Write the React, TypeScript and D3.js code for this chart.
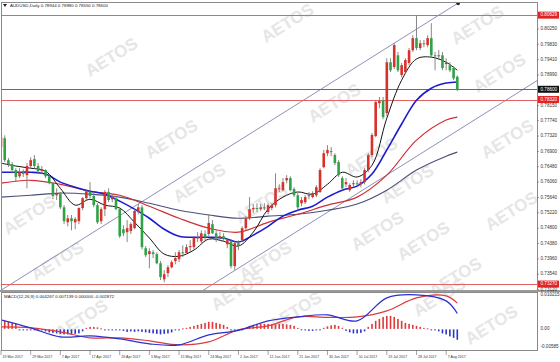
import React from "react";
import * as d3 from "d3";

// ---------- DATA ----------
const opens = [
  0.7702, 0.7726, 0.7666, 0.7655, 0.7639, 0.7622, 0.7633, 0.7625, 0.765, 0.7669,
  0.765, 0.7636, 0.7639, 0.7622, 0.7603, 0.757, 0.7573, 0.7537, 0.7496, 0.7507,
  0.7496, 0.7499, 0.7535, 0.7562, 0.7579, 0.7568, 0.7543, 0.7499, 0.7532, 0.7579,
  0.7559, 0.7562, 0.7532, 0.7477, 0.7469, 0.7472, 0.748, 0.7524, 0.7537, 0.7425,
  0.7409, 0.7414, 0.7409, 0.7384, 0.734, 0.7357, 0.7373, 0.739, 0.7395, 0.7414,
  0.7412, 0.7428, 0.7428, 0.7453, 0.7444, 0.7464, 0.7464, 0.7491, 0.7466, 0.7453,
  0.7458, 0.7436, 0.7444, 0.7376, 0.7439, 0.7447, 0.748, 0.7507, 0.7532, 0.7535,
  0.7532, 0.7537, 0.7524, 0.7535, 0.7543, 0.7587, 0.7584, 0.7611, 0.7617, 0.7587,
  0.757, 0.7548, 0.7551, 0.7568, 0.7565, 0.757, 0.7579, 0.7647, 0.7685, 0.7691,
  0.768, 0.7661, 0.7617, 0.76, 0.7584, 0.76, 0.7603, 0.76, 0.7606, 0.7639,
  0.768, 0.7732, 0.7822, 0.783, 0.7795, 0.7934, 0.7921, 0.7953, 0.7899, 0.7907,
  0.7932, 0.7967, 0.8, 0.7973, 0.7986, 0.7981, 0.8, 0.7953, 0.7951, 0.7953,
  0.7929, 0.7926, 0.7918, 0.78944,
];
const highs = [
  0.7743, 0.7734, 0.7672, 0.7661, 0.7644, 0.7644, 0.7641, 0.7658, 0.7674, 0.768,
  0.7658, 0.765, 0.7641, 0.7628, 0.7606, 0.7589, 0.7579, 0.7543, 0.7516, 0.7516,
  0.751, 0.7537, 0.7565, 0.7587, 0.7606, 0.7579, 0.7548, 0.7537, 0.7584, 0.7589,
  0.7573, 0.7568, 0.7537, 0.7488, 0.7502, 0.7496, 0.7532, 0.7546, 0.7543, 0.7431,
  0.7425, 0.742, 0.7414, 0.739, 0.7365, 0.7379, 0.7392, 0.7414, 0.742, 0.7433,
  0.7436, 0.7447, 0.7458, 0.7469, 0.7474, 0.7474, 0.7518, 0.7502, 0.7474, 0.7469,
  0.7466, 0.7453, 0.745, 0.7444, 0.7447, 0.7485, 0.7513, 0.7565, 0.7546, 0.7548,
  0.7546, 0.7548, 0.7548, 0.7548, 0.763, 0.76, 0.7617, 0.7625, 0.7622, 0.7592,
  0.7576, 0.7565, 0.757, 0.7579, 0.7581, 0.7598, 0.7644, 0.7694, 0.7707, 0.7702,
  0.7685, 0.7666, 0.7622, 0.7617, 0.7603, 0.7611, 0.7611, 0.7614, 0.7644, 0.7685,
  0.774, 0.783, 0.7839, 0.7839, 0.7945, 0.7945, 0.7986, 0.7962, 0.7932, 0.7945,
  0.7973, 0.8008, 0.8063, 0.7995, 0.7995, 0.8008, 0.8041, 0.7962, 0.7967, 0.7962,
  0.7945, 0.7934, 0.7923, 0.7898,
];
const lows = [
  0.7696, 0.7661, 0.7647, 0.763, 0.7606, 0.7617, 0.762, 0.7589, 0.7644, 0.7644,
  0.7628, 0.7628, 0.7617, 0.76, 0.7559, 0.7557, 0.7532, 0.7491, 0.7485, 0.7474,
  0.7477, 0.7491, 0.7529, 0.7557, 0.7562, 0.7537, 0.7491, 0.7491, 0.7513, 0.7551,
  0.7551, 0.7529, 0.7453, 0.7458, 0.7442, 0.7464, 0.7477, 0.7518, 0.7422, 0.7401,
  0.737, 0.7398, 0.7381, 0.7338, 0.7332, 0.7346, 0.737, 0.7381, 0.7387, 0.7401,
  0.7409, 0.7414, 0.7422, 0.7442, 0.7439, 0.7447, 0.7458, 0.7464, 0.7442, 0.7444,
  0.7442, 0.7425, 0.737, 0.7365, 0.742, 0.7442, 0.7474, 0.7502, 0.7521, 0.7524,
  0.7527, 0.7529, 0.7518, 0.7529, 0.7537, 0.7579, 0.7581, 0.7603, 0.7581, 0.7565,
  0.7532, 0.754, 0.7546, 0.7559, 0.7562, 0.7565, 0.7576, 0.7644, 0.7677, 0.7677,
  0.7652, 0.762, 0.7584, 0.7592, 0.7579, 0.7592, 0.7595, 0.7592, 0.76, 0.7633,
  0.7674, 0.7729, 0.7808, 0.7778, 0.7787, 0.7907, 0.7915, 0.7907, 0.7893, 0.7902,
  0.7926, 0.7962, 0.7967, 0.7967, 0.7975, 0.7975, 0.7948, 0.7912, 0.794, 0.7912,
  0.7912, 0.7907, 0.7885, 0.7855,
];
const closes = [
  0.7729, 0.7666, 0.7655, 0.7639, 0.762, 0.7633, 0.7628, 0.765, 0.7666, 0.765,
  0.7636, 0.7641, 0.7622, 0.7603, 0.7568, 0.7576, 0.7537, 0.7499, 0.7507, 0.7499,
  0.7505, 0.7535, 0.7562, 0.7581, 0.7568, 0.7543, 0.7496, 0.7532, 0.7579, 0.7557,
  0.7565, 0.7532, 0.7458, 0.7466, 0.748, 0.7491, 0.7527, 0.7537, 0.7428, 0.7406,
  0.7417, 0.7409, 0.7384, 0.7346, 0.7354, 0.7373, 0.7387, 0.7398, 0.7414, 0.7412,
  0.7428, 0.7431, 0.7453, 0.7455, 0.7466, 0.7455, 0.7494, 0.7466, 0.7453, 0.7458,
  0.745, 0.7447, 0.7376, 0.7439, 0.7431, 0.748, 0.7507, 0.7532, 0.7535, 0.7532,
  0.7537, 0.7535, 0.7543, 0.7543, 0.7589, 0.7589, 0.7606, 0.7617, 0.7584, 0.757,
  0.7537, 0.7557, 0.7565, 0.757, 0.7576, 0.7592, 0.7639, 0.7685, 0.7694, 0.7688,
  0.7658, 0.7625, 0.7589, 0.7606, 0.7598, 0.7603, 0.76, 0.7606, 0.7639, 0.768,
  0.7735, 0.7825, 0.7828, 0.7784, 0.7934, 0.7912, 0.7981, 0.7912, 0.7926, 0.794,
  0.7967, 0.8, 0.7973, 0.7986, 0.7984, 0.8, 0.7953, 0.7951, 0.7953, 0.7918,
  0.7932, 0.7912, 0.789, 0.786,
];

// moving averages read at sampled bars
const maIdx4 = [0, 4, 8, 12, 16, 20, 24, 28, 32, 36, 40, 44, 48, 52, 56, 60, 64, 68, 72, 76, 80, 84, 88, 92, 96, 100, 104, 108, 112, 116, 120, 123];
const maFast = [0.7658, 0.765, 0.7644, 0.7636, 0.7589, 0.7543, 0.7559, 0.7543, 0.7535, 0.7496, 0.7453, 0.7409, 0.7403, 0.742, 0.745, 0.7444, 0.7431, 0.7469, 0.7532, 0.7565, 0.7579, 0.7573, 0.76, 0.7633, 0.762, 0.7652, 0.7781, 0.7885, 0.7943, 0.7948, 0.7934, 0.7912];
const maMid = [0.7633, 0.7633, 0.7633, 0.7628, 0.7606, 0.7592, 0.7581, 0.7573, 0.7554, 0.7532, 0.7507, 0.7477, 0.7458, 0.7455, 0.7455, 0.7453, 0.7442, 0.7461, 0.7485, 0.7513, 0.7529, 0.754, 0.7565, 0.7584, 0.7595, 0.7628, 0.7694, 0.7765, 0.783, 0.7863, 0.7877, 0.788];
const maIdx8 = [0, 8, 16, 24, 32, 40, 48, 56, 64, 72, 80, 88, 96, 104, 112, 120, 123];
const maSlow = [0.7603, 0.7611, 0.76, 0.7581, 0.757, 0.754, 0.7507, 0.748, 0.7469, 0.7496, 0.7518, 0.7543, 0.7565, 0.7625, 0.7721, 0.7776, 0.7784];
const maLong = [0.7565, 0.757, 0.7576, 0.7573, 0.7565, 0.7548, 0.7529, 0.7516, 0.7507, 0.7513, 0.7518, 0.7529, 0.7546, 0.7584, 0.7639, 0.7677, 0.7688];

// MACD (12,26,9)
const macdMain = [0.00249, 0.00028, -0.00222, -0.00194, -0.00277, -0.00415, -0.00443, -0.00166, -0.00042, 0.00222, 0.00332, 0.00388, 0.00222, 0.00859, 0.00942, 0.00776, 0.004267];
const macdSignal = [0.00055, 0.00028, -0.00083, -0.00249, -0.00249, -0.00332, -0.00443, -0.0036, -0.00028, 0.00083, 0.00332, 0.00319, 0.00332, 0.00499, 0.00859, 0.00914, 0.007139];
const macdHist = [
  0.00222, 0.00222, 0.00194, 0.00166, 0.00139, -0.00014, -0.00014, -0.00019, -0.00014, -0.00017,
  -0.00022, -0.00028, -0.00055, -0.00083, -0.00097, -0.00111, -0.00125, -0.00139, -0.00139, -0.00139,
  -0.00125, -0.00111, -0.00055, 0.00028, 0.00055, 0.00055, 0.00042, 0.00014, -0.00014, -0.00014,
  -0.00014, -0.00017, -0.00014, -0.00042, -0.00069, -0.00055, -0.00069, -0.00055, -0.00069, -0.00083,
  -0.00097, -0.00111, -0.00125, -0.00139, -0.00125, -0.00111, -0.00083, -0.00028, -0.00014, 0.00014,
  0.00028, 0.00055, 0.00083, 0.00111, 0.00139, 0.00166, 0.00194, 0.00194, 0.00166, 0.00139,
  0.00111, 0.00055, -0.00014, -0.00028, -0.00028, -0.00014, 0.00028, 0.00083, 0.00111, 0.00139,
  0.00139, 0.00139, 0.00139, 0.00125, 0.00125, 0.00139, 0.00139, 0.00125, 0.00111, 0.00083,
  0.00028, -0.00014, -0.00028, -0.00042, -0.00042, -0.00028, -0.00014, 0.00028, 0.00069, 0.00097,
  0.00111, 0.00083, 0.00028, -0.00042, -0.00083, -0.00111, -0.00111, -0.00097, -0.00055, 0.00055,
  0.00139, 0.00222, 0.00277, 0.00332, 0.0036, 0.0036, 0.00332, 0.00277, 0.00222, 0.00166,
  0.00139, 0.00111, 0.00083, 0.00055, 0.00028, 0.00014, -0.00014, -0.00028, -0.00055, -0.00111,
  -0.00139, -0.00194, -0.00235, -0.002872,
];

const dateLabels = ["19 Mar 2017", "29 Mar 2017", "7 Apr 2017", "17 Apr 2017", "26 Apr 2017", "5 May 2017", "15 May 2017", "24 May 2017", "2 Jun 2017", "12 Jun 2017", "21 Jun 2017", "30 Jun 2017", "10 Jul 2017", "19 Jul 2017", "28 Jul 2017", "7 Aug 2017"];
const dateBars = [0, 8, 16, 24, 32, 40, 48, 56, 64, 72, 80, 88, 96, 104, 112, 120];
const priceTicks = ["0.80250", "0.79830", "0.79410", "0.78990", "0.78150", "0.77740", "0.77320", "0.76900", "0.76480", "0.76060", "0.75640", "0.75220", "0.74800", "0.74380", "0.73960", "0.73540", "0.73120"];
const redLevels = ["0.80629", "0.78320", "0.73270"];
const lastPrice = "0.78600";
const channelA = [[0, 0.731], [100, 0.7948]];
const channelB = [[100, 0.76], [140, 0.7855]];
const macdTicks = ["0.010215", "0.00", "-0.00585"];
const title = "AUDUSD,Daily 0.78944 0.78980 0.78550 0.78600";
const macdTitle = "MACD(12,26,9) 0.004267 0.007139 0.000000 -0.002872";

// watermark placement (decoration)
const marks = [[112, 58], [288, 24], [478, 26], [500, 74], [335, 104], [372, 158], [172, 140], [200, 184], [30, 216], [58, 262], [262, 205], [266, 262], [378, 232], [408, 185], [424, 242], [456, 278], [238, 292], [82, 320], [440, 298], [492, 326], [296, 312], [508, 140], [512, 212]];

const FONT = "'Liberation Sans', Arial, sans-serif";

export default function App() {
  const W = 560, H = 362;
  const L = 1, R = 537, mainTop = 2, mainBottom = 290, macdTop = 292, macdBottom = 350;
  const x = d3.scaleLinear().domain([0, 123]).range([1, 457.3]);
  const y = d3.scaleLinear().domain([0.8025, 0.7438]).range([29, 243.5]);
  const ym = d3.scaleLinear().domain([0.010215, -0.00585]).range([macdTop, macdBottom]);

  const curve = d3.curveCatmullRom.alpha(0.5);
  const maPath = (idx: number[], vals: number[]) =>
    d3.line<number>().x((_, k) => x(idx[k])).y((v) => y(v)).curve(curve)(vals) || "";
  const macdPath = (vals: number[]) =>
    d3.line<number>().x((_, k) => x(maIdx8[k])).y((v) => ym(v)).curve(curve)(vals) || "";

  const chan = (c: number[][]) => {
    const s = (c[1][1] - c[0][1]) / (c[1][0] - c[0][0]);
    const i0 = -20, i1 = 200;
    return { x1: x(i0), y1: y(c[0][1] + s * (i0 - c[0][0])), x2: x(i1), y2: y(c[0][1] + s * (i1 - c[0][0])) };
  };
  const cA = chan(channelA);
  const cB = chan(channelB);
  const sA = (channelA[1][1] - channelA[0][1]) / (channelA[1][0] - channelA[0][0]);
  const topPrice = y.invert(mainTop + 1);
  const iTop = channelA[0][0] + (topPrice - channelA[0][1]) / sA;

  const bodyW = 2.6;
  const up = "#d8312b", down = "#2fa247";

  return (
    <svg width={W} height={H} style={{ position: "absolute", left: 0, top: 0, background: "#fff" }} fontFamily={FONT}>
      <defs>
        <clipPath id="mainClip"><rect x={L} y={mainTop} width={R - L} height={mainBottom - mainTop} /></clipPath>
        <clipPath id="macdClip"><rect x={L} y={macdTop} width={R - L} height={macdBottom - macdTop} /></clipPath>
      </defs>
      <rect x={0} y={0} width={W} height={H} fill="#ffffff" />
      {/* watermarks */}
      <g fill="#e6e6e6" fontWeight="bold" fontSize={17} textAnchor="middle">
        {marks.map((m, k) => (
          <text key={k} x={m[0]} y={m[1]} dominantBaseline="middle" transform={`rotate(-32 ${m[0]} ${m[1]})`}>AETOS</text>
        ))}
      </g>

      {/* main panel */}
      <g clipPath="url(#mainClip)">
        <line x1={cA.x1} y1={cA.y1} x2={cA.x2} y2={cA.y2} stroke="#7d86b0" strokeWidth={0.9} />
        <line x1={cB.x1} y1={cB.y1} x2={cB.x2} y2={cB.y2} stroke="#7d86b0" strokeWidth={0.9} />
        {redLevels.map((p) => (
          <line key={p} x1={L} x2={R} y1={Math.round(y(+p)) + 0.5} y2={Math.round(y(+p)) + 0.5} stroke="#e06464" strokeWidth={1} />
        ))}
        <line x1={L} x2={R} y1={Math.round(y(+lastPrice)) + 0.5} y2={Math.round(y(+lastPrice)) + 0.5} stroke="#6a6a6a" strokeWidth={1} />
        <path d={maPath(maIdx8, maLong)} fill="none" stroke="#4a5078" strokeWidth={1.15} />
        <path d={maPath(maIdx8, maSlow)} fill="none" stroke="#cf2f35" strokeWidth={1.2} />
        <path d={maPath(maIdx4, maMid)} fill="none" stroke="#1c1ccc" strokeWidth={1.6} />
        <path d={maPath(maIdx4, maFast)} fill="none" stroke="#141414" strokeWidth={1} />
        {closes.map((c, i) => {
          const o = opens[i];
          const isUp = c >= o;
          const col = isUp ? up : down;
          const yTop = y(Math.max(o, c));
          const yBot = y(Math.min(o, c));
          return (
            <g key={i}>
              <line x1={x(i)} x2={x(i)} y1={y(highs[i])} y2={y(lows[i])} stroke="#7a7a7a" strokeWidth={0.9} />
              <rect x={x(i) - bodyW / 2} y={yTop} width={bodyW} height={Math.max(1, yBot - yTop)} fill={col} />
            </g>
          );
        })}
        <circle cx={x(iTop)} cy={mainTop + 1.5} r={1.8} fill="#222" />
      </g>

      {/* MACD panel */}
      <g clipPath="url(#macdClip)">
        {macdHist.map((v, i) => {
          const y0 = ym(0);
          const yv = ym(v);
          const top = Math.min(y0, yv);
          const h = Math.max(1, Math.abs(yv - y0));
          return <rect key={i} x={x(i) - 0.8} y={v >= 0 ? top : y0 + 0.5} width={1.6} height={h} fill={v >= 0 ? "#e0393a" : "#2b35c8"} />;
        })}
        <path d={macdPath(macdSignal)} fill="none" stroke="#dd3b3b" strokeWidth={1.2} />
        <path d={macdPath(macdMain)} fill="none" stroke="#2a2fd0" strokeWidth={1.2} />
      </g>

      {/* frames */}
      <rect x={L + 0.5} y={mainTop + 0.5} width={R - L} height={mainBottom - mainTop} fill="none" stroke="#8a8a8a" strokeWidth={1} />
      <line x1={0} x2={W} y1={291} y2={291} stroke="#9a9a9a" strokeWidth={2} />
      <rect x={L + 0.5} y={macdTop + 0.5} width={R - L} height={macdBottom - macdTop} fill="none" stroke="#8a8a8a" strokeWidth={1} />

      {/* title */}
      <path d="M3,4 L7,4 L5,7 Z" fill="#222" />
      <text x={10} y={7} fontSize={4.4} fill="#222">{title}</text>
      <text x={4} y={298} fontSize={4.4} fill="#222">{macdTitle}</text>

      {/* right price axis */}
      <g fontSize={4.6} fill="#333">
        {priceTicks.map((t) => (
          <g key={t}>
            <line x1={R} x2={R + 2} y1={y(+t)} y2={y(+t)} stroke="#666" strokeWidth={0.6} />
            <text x={540.5} y={y(+t)} dominantBaseline="middle">{t}</text>
          </g>
        ))}
      </g>
      {redLevels.map((p) => (
        <g key={p}>
          <rect x={538} y={y(+p) - 3.5} width={21} height={7} fill="#e02424" />
          <text x={540.5} y={y(+p)} dominantBaseline="middle" fontSize={4.6} fill="#fff">{p}</text>
        </g>
      ))}
      <rect x={538} y={y(+lastPrice) - 3.5} width={21} height={7} fill="#111" />
      <text x={540.5} y={y(+lastPrice)} dominantBaseline="middle" fontSize={4.6} fill="#fff">{lastPrice}</text>

      {/* MACD axis */}
      <g fontSize={4.6} fill="#333">
        <text x={540.5} y={295} dominantBaseline="middle">{macdTicks[0]}</text>
        <text x={540.5} y={ym(0)} dominantBaseline="middle">{macdTicks[1]}</text>
        <text x={540.5} y={347} dominantBaseline="middle">{macdTicks[2]}</text>
      </g>

      {/* date axis */}
      <g fontSize={3.6} fill="#333">
        {dateLabels.map((d, k) => (
          <g key={d}>
            <line x1={x(dateBars[k])} x2={x(dateBars[k])} y1={macdBottom} y2={macdBottom + 5} stroke="#666" strokeWidth={0.6} />
            <text x={x(dateBars[k]) + 1.5} y={357.5}>{d}</text>
          </g>
        ))}
      </g>
    </svg>
  );
}
